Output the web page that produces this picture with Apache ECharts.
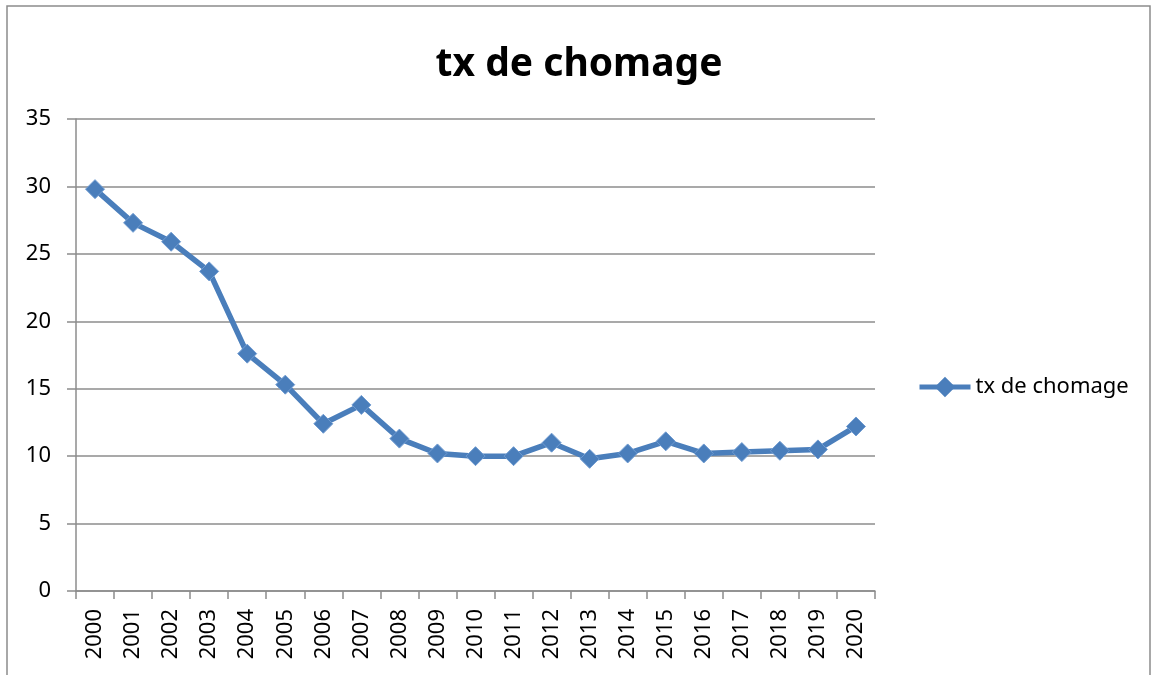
<!DOCTYPE html>
<html>
<head>
<meta charset="utf-8">
<script src="https://cdn.jsdelivr.net/npm/echarts@6/dist/echarts.min.js"></script>
<style>
  html, body { margin: 0; padding: 0; background: #fff; }
  #main { width: 1158px; height: 675px; }
</style>
</head>
<body>
<div id="main"></div>
<script>
// données
var annees = ['2000', '2001', '2002', '2003', '2004', '2005', '2006', '2007', '2008', '2009', '2010',
    '2011', '2012', '2013', '2014', '2015', '2016', '2017', '2018', '2019', '2020'];
var txChomage = [29.8, 27.3, 25.9, 23.7, 17.6, 15.3, 12.4, 13.8, 11.3, 10.2, 10.0,
    10.0, 11.0, 9.8, 10.2, 11.1, 10.2, 10.3, 10.4, 10.5, 12.2];
var serieNom = 'tx de chomage';

var myChart = echarts.init(document.getElementById('main'));
var police = 'Noto Sans';
var gris = '#8c8c8c';
var bleu = '#4a7ebb';

var option = {
    animation: false,
    backgroundColor: '#fff',
    title: {
        text: 'tx de chomage',
        left: 'center',
        top: 40,
        textStyle: { fontFamily: police, fontWeight: 'bold', fontSize: 39, color: '#000' }
    },
    legend: {
        left: 917,
        top: 376,
        padding: 0,
        itemWidth: 51,
        itemHeight: 22,
        itemGap: 5,
        textStyle: { fontFamily: police, fontSize: 22, color: '#000' },
        lineStyle: { width: 5, color: bleu },
        itemStyle: { color: bleu, borderColor: bleu },
        data: [serieNom]
    },
    grid: {
        left: 76,
        right: 283,
        top: 119,
        bottom: 84,
        containLabel: false
    },
    xAxis: {
        type: 'category',
        data: annees,
        boundaryGap: true,
        axisLine: { lineStyle: { color: gris, width: 1.5 } },
        axisTick: { show: true, length: 8, lineStyle: { color: gris, width: 1.5 } },
        axisLabel: {
            rotate: 90,
            interval: 0,
            margin: 18,
            fontFamily: police,
            fontSize: 22,
            color: '#000'
        }
    },
    yAxis: {
        type: 'value',
        min: 0,
        max: 35,
        interval: 5,
        axisLine: { show: true, lineStyle: { color: gris, width: 1.5 } },
        axisTick: { show: true, length: 9, lineStyle: { color: gris, width: 1.5 } },
        splitLine: { lineStyle: { color: gris, width: 1.5 } },
        axisLabel: { margin: 25, fontFamily: police, fontSize: 22, color: '#000' }
    },
    graphic: [
        {
            type: 'rect',
            z: 100,
            shape: { x: 7, y: 6, width: 1143, height: 700 },
            style: { fill: 'none', stroke: gris, lineWidth: 1.5 }
        }
    ],
    series: [
        {
            name: serieNom,
            type: 'line',
            data: txChomage,
            symbol: 'diamond',
            symbolSize: 19,
            lineStyle: { color: bleu, width: 5.5 },
            itemStyle: { color: bleu, borderColor: '#6f9bd1', borderWidth: 1 }
        }
    ]
};
option && myChart.setOption(option);
</script>
</body>
</html>
